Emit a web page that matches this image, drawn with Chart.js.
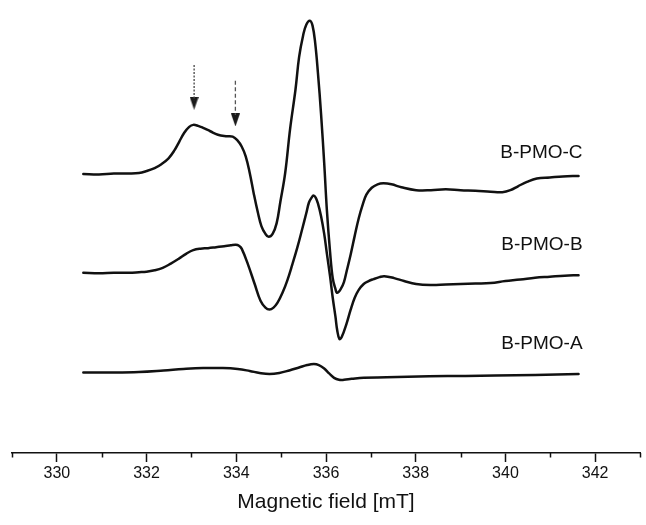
<!DOCTYPE html>
<html>
<head>
<meta charset="utf-8">
<script src="https://cdn.jsdelivr.net/npm/chart.js@4.4.1/dist/chart.umd.min.js"></script>
<style>
  html, body { margin: 0; padding: 0; background: #ffffff; }
  #wrap { width: 646px; height: 525px; }
</style>
</head>
<body>
<div id="wrap"><canvas id="c" width="646" height="525"></canvas></div>
<script>
// ---- data (magnetic field in mT, signal in arbitrary units incl. vertical offset) ----
const fieldC  = [330.59,330.94,331.27,331.61,331.83,332.00,332.18,332.33,332.49,332.62,332.73,332.84,332.95,333.04,333.15,333.26,333.42,333.59,333.77,333.92,334.03,334.12,334.21,334.30,334.39,334.48,334.56,334.65,334.72,334.81,334.90,334.98,335.09,335.20,335.32,335.40,335.49,335.56,335.64,335.70,335.76,335.82,335.89,335.96,336.02,336.09,336.15,336.21,336.25,336.33,336.40,336.46,336.55,336.64,336.73,336.82,336.90,337.02,337.15,337.28,337.46,337.68,338.01,338.34,338.67,339.00,339.33,339.67,339.93,340.11,340.28,340.48,340.70,340.99,341.28,341.63];
const signalC = [284,283.5,284.5,284.5,285,287,290,294,300,308,317,326,332,334,333,331,327.5,324,322.5,322,318,312,302,285,264,245,231,223,220,223,234,255,285,330,370,403,425,436,440,435,417,387,345,295,247,205,178,167,163,167,174,185,202,221,239,253,263,270,273.5,274.5,273.5,270.5,267.5,267.5,268.5,267.5,267,266,265.5,267.5,271.5,276,279.5,280.5,281.5,282];

const fieldB  = [330.59,330.94,331.27,331.61,331.83,332.00,332.18,332.36,332.53,332.71,332.89,333.04,333.20,333.37,333.55,333.73,333.88,333.99,334.06,334.12,334.26,334.41,334.54,334.65,334.74,334.83,334.92,335.03,335.14,335.25,335.36,335.47,335.56,335.62,335.68,335.72,335.77,335.82,335.89,335.96,336.02,336.09,336.15,336.21,336.25,336.30,336.35,336.46,336.55,336.64,336.73,336.84,336.95,337.06,337.19,337.30,337.52,337.74,338.01,338.34,338.67,339.00,339.33,339.67,340.00,340.33,340.66,340.99,341.32,341.63];
const signalB = [183.5,183,183.5,183.5,184,184.5,186,188.5,192.5,197.5,203,206.5,208,208.5,209.5,210.5,211.5,212,211,208,192,172,155,148,146,148,153,163,176,192,209,228,244,255,260,262,260,254,241,223,203,180,158,139,125,116,118,132,146,158,166,172,175,177,179,180,178,175,172,171,171.5,172,172.5,173,175,176.5,178.5,179.5,180.5,181];

const fieldA  = [330.59,331.16,331.83,332.38,332.82,333.26,333.70,334.03,334.30,334.52,334.74,334.96,335.18,335.40,335.58,335.73,335.84,335.96,336.07,336.18,336.29,336.40,336.57,336.84,337.35,338.30,339.11,339.78,340.66,341.63];
const signalA = [82,82,82.5,84,85.5,86.5,86.5,85.5,83.5,81.5,80.5,81.5,84,87,89.5,90.5,89.5,86,81,76.5,74.5,74.5,75.5,76.7,77,78,78.5,79,79.5,80.5];

const seriesNames   = ["B-PMO-C", "B-PMO-B", "B-PMO-A"];
const nameField     = [341.72, 341.72, 341.72];
const nameSignal    = [300, 207, 106];

const arrowField    = [333.06, 333.98];
const arrowTop      = [395, 379];
const arrowBottom   = [359, 344];
const arrowHead     = [356, 339];

const majorTicks    = [330, 332, 334, 336, 338, 340, 342];
const tickLabels    = ["330", "332", "334", "336", "338", "340", "342"];
const minorTicks    = [329, 331, 333, 335, 337, 339, 341, 343];
const axisTitle     = "Magnetic field [mT]";

// ---- build ----
const zip = (xs, ys) => xs.map((x, i) => ({ x: x, y: ys[i] }));
const INK = '#111111';
const FONT = '"Liberation Sans", Arial, Helvetica, sans-serif';

// narrow arrowhead glyph
const head = document.createElement('canvas');
head.width = 9; head.height = 13;
(function(){
  const g = head.getContext('2d');
  g.fillStyle = '#1a1a1a';
  g.beginPath(); g.moveTo(0, 0); g.lineTo(9, 0); g.lineTo(4.5, 13); g.closePath(); g.fill();
})();

const lineDs = (xs, ys) => ({
  data: zip(xs, ys),
  borderColor: INK, borderWidth: 2.5, pointRadius: 0,
  tension: 0.4, fill: false, borderJoinStyle: 'round', borderCapStyle: 'round'
});

const datasets = [
  lineDs(fieldC, signalC),
  lineDs(fieldB, signalB),
  lineDs(fieldA, signalA),
  { data: [{x: arrowField[0], y: arrowTop[0]}, {x: arrowField[0], y: arrowBottom[0]}],
    borderColor: '#444', borderWidth: 1.3, borderDash: [2, 1.5], pointRadius: 0 },
  { data: [{x: arrowField[1], y: arrowTop[1]}, {x: arrowField[1], y: arrowBottom[1]}],
    borderColor: '#555', borderWidth: 1.3, borderDash: [4, 2.5], pointRadius: 0 },
  { data: zip(arrowField, arrowHead), showLine: false,
    pointStyle: head, pointRadius: 6, borderWidth: 0 }
];

const extras = {
  id: 'extras',
  afterDraw(chart) {
    const ctx = chart.ctx, xs = chart.scales.x, ys = chart.scales.y;
    ctx.save();
    // minor ticks
    ctx.strokeStyle = INK; ctx.lineWidth = 1.5;
    const yb = chart.chartArea.bottom;
    minorTicks.forEach(v => {
      const px = Math.round(xs.getPixelForValue(v)) + 0.5;
      ctx.beginPath(); ctx.moveTo(px, yb); ctx.lineTo(px, yb + 4.5); ctx.stroke();
    });
    // series names
    ctx.fillStyle = INK;
    ctx.font = '19px ' + FONT;
    ctx.textAlign = 'right'; ctx.textBaseline = 'alphabetic';
    seriesNames.forEach((n, i) => {
      ctx.fillText(n, xs.getPixelForValue(nameField[i]), ys.getPixelForValue(nameSignal[i]));
    });
    ctx.restore();
  }
};

new Chart(document.getElementById('c'), {
  type: 'line',
  data: { datasets },
  options: {
    responsive: false, animation: false, devicePixelRatio: 1,
    layout: { padding: { left: 12, right: 0, top: 0, bottom: 10.6 } },
    plugins: { legend: { display: false }, tooltip: { enabled: false } },
    scales: {
      x: {
        type: 'linear', min: 329, max: 343,
        afterBuildTicks: s => { s.ticks = majorTicks.map(v => ({ value: v })); },
        ticks: {
          color: INK, padding: 2, maxRotation: 0, autoSkip: false,
          font: { family: FONT, size: 16 },
          callback: (v) => { const i = majorTicks.indexOf(v); return i >= 0 ? tickLabels[i] : ''; }
        },
        grid: { drawOnChartArea: false, drawTicks: true, tickLength: 9, tickWidth: 1.5, tickColor: INK },
        border: { display: true, color: INK, width: 1.5 },
        title: { display: true, text: axisTitle, color: INK, padding: { top: 4, bottom: 0 },
                 font: { family: FONT, size: 21 } }
      },
      y: { type: 'linear', display: false, min: 0, max: 455 }
    }
  },
  plugins: [extras]
});
</script>
</body>
</html>
